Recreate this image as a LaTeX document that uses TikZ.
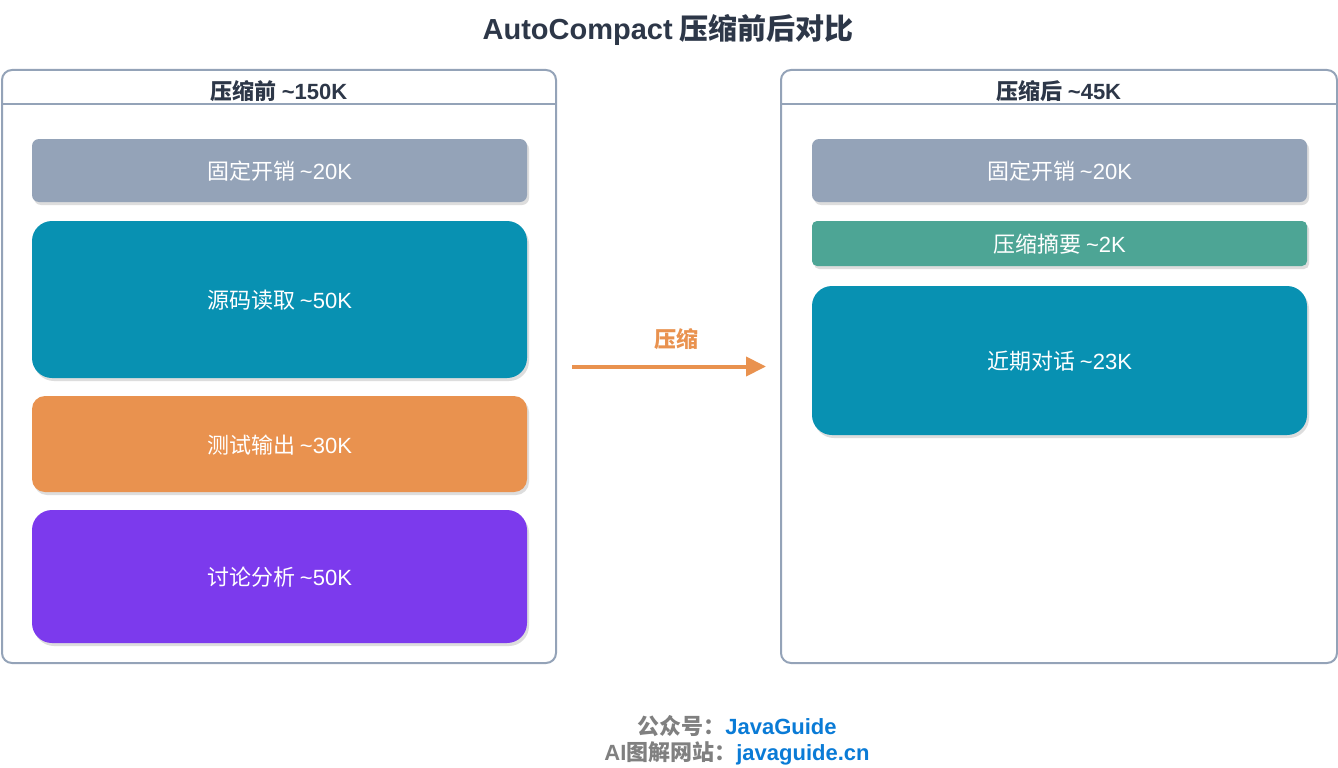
\documentclass[tikz,border=0pt]{standalone}
\usepackage{fontspec}
\setmainfont{Noto Sans CJK SC}
\newfontfamily\lat{Liberation Sans}
\usetikzlibrary{arrows.meta,shadows}
\definecolor{slate}{HTML}{94A3B8}
\definecolor{dark}{HTML}{2D3748}
\definecolor{cyanb}{HTML}{0891B2}
\definecolor{orangeb}{HTML}{E9924F}
\definecolor{violetb}{HTML}{7C3AED}
\definecolor{tealb}{HTML}{4DA595}
\definecolor{linkblue}{HTML}{0A7BD6}
\definecolor{footgray}{HTML}{808080}
\tikzset{
  container/.style={draw=slate, line width=2pt, rounded corners=10pt, fill=white, inner sep=0pt},
  hdr/.style={font=\fontsize{22}{26}\selectfont\bfseries, text=dark},
  blk/.style={inner sep=0pt, text=white, font=\fontsize{22}{26}\selectfont,
    minimum width=495pt, text depth=-3pt,
    drop shadow={shadow xshift=2pt, shadow yshift=-3pt, opacity=0.22, fill=black!60}},
  arr/.style={draw=orangeb, line width=4pt, -{Triangle[length=20pt,width=19pt]}},
}
\begin{document}
\begin{tikzpicture}[x=1pt,y=-1pt]
\useasboundingbox (0,0) rectangle (1338,768);
\node[font=\fontsize{29}{33}\selectfont\bfseries, text=dark] (title) at (668,30) {{\lat AutoCompact} 压缩前后对比};

% left container
\node[container, minimum width=554pt, minimum height=593pt] (L) at (279,366.5) {};
\draw[slate, line width=2pt] (2,104) -- (556,104);
\node[hdr] (Lh) at (279,91) {压缩前 {\lat\textasciitilde150K}};

\node[blk, fill=slate, rounded corners=7pt, minimum height=63pt] (l1) at (279.5,170.5) {固定开销 {\lat\textasciitilde20K}};
\node[blk, fill=cyanb, rounded corners=20pt, minimum height=157pt] (l2) at (279.5,299.5) {源码读取 {\lat\textasciitilde50K}};
\node[blk, fill=orangeb, rounded corners=13pt, minimum height=96pt] (l3) at (279.5,444) {测试输出 {\lat\textasciitilde30K}};
\node[blk, fill=violetb, rounded corners=20pt, minimum height=133pt] (l4) at (279.5,576.5) {讨论分析 {\lat\textasciitilde50K}};

% right container
\node[container, minimum width=556pt, minimum height=593pt] (R) at (1059,366.5) {};
\draw[slate, line width=2pt] (781,104) -- (1337,104);
\node[hdr] (Rh) at (1059,91) {压缩后 {\lat\textasciitilde45K}};

\node[blk, fill=slate, rounded corners=7pt, minimum height=63pt] (r1) at (1059.5,170.5) {固定开销 {\lat\textasciitilde20K}};
\node[blk, fill=tealb, rounded corners=5pt, minimum height=45pt] (r2) at (1059.5,243.5) {压缩摘要 {\lat\textasciitilde2K}};
\node[blk, fill=cyanb, rounded corners=20pt, minimum height=149pt] (r3) at (1059.5,360.5) {近期对话 {\lat\textasciitilde23K}};

% arrow
\draw[arr, shorten <=15pt, shorten >=14pt] (L.east) -- (R.west);
\node[font=\fontsize{22}{26}\selectfont\bfseries, text=orangeb] (lab) at (676,339) {压缩};

% footer
\node[font=\fontsize{22}{26}\selectfont\bfseries] (f1) at (737,726) {\textcolor{footgray}{公众号：}\textcolor{linkblue}{\lat JavaGuide}};
\node[font=\fontsize{22}{26}\selectfont\bfseries] (f2) at (737,753) {\textcolor{footgray}{{\lat AI}图解网站：}\textcolor{linkblue}{\lat javaguide.cn}};
\end{tikzpicture}
\end{document}
